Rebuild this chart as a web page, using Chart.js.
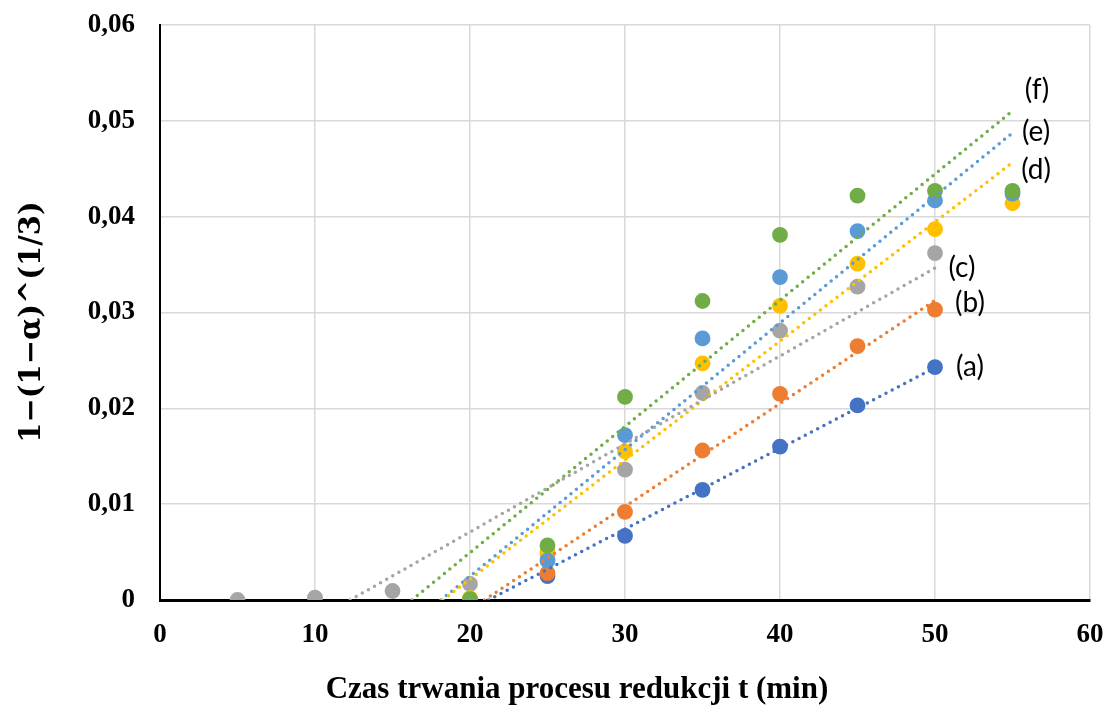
<!DOCTYPE html>
<html lang="pl">
<head>
<meta charset="utf-8">
<title>Kinetyka redukcji</title>
<script src="https://cdn.jsdelivr.net/npm/chart.js@4.4.1/dist/chart.umd.min.js"></script>
<style>
  html, body { margin: 0; padding: 0; background: #ffffff; }
  #wrap { position: relative; width: 1110px; height: 711px; }
</style>
</head>
<body>
<div id="wrap"><canvas id="chart"></canvas></div>
<script>
// Reduction time (min)
const times = [5, 10, 15, 20, 25, 30, 35, 40, 45, 50, 55];

// 1-(1-alpha)^(1/3) for each sample series (null = not measured)
const seriesA = [null, null, null, 0.0000, 0.0025, 0.0067, 0.0115, 0.0160, 0.0203, 0.0243, null];
const seriesB = [null, null, null, 0.0000, 0.0028, 0.0092, 0.0156, 0.0215, 0.0265, 0.0303, null];
const seriesC = [0.0000, 0.00024, 0.00094, 0.00167, 0.0048, 0.0136, 0.0216, 0.0281, 0.0327, 0.0362, null];
const seriesD = [null, null, null, 0.0002, 0.0050, 0.0155, 0.0247, 0.0307, 0.0351, 0.0387, 0.0414];
const seriesE = [null, null, null, 0.0000, 0.0041, 0.0172, 0.0273, 0.0337, 0.0385, 0.0417, 0.0424];
const seriesF = [null, null, null, 0.0001, 0.0057, 0.0212, 0.0312, 0.0381, 0.0422, 0.0427, 0.0427];

const seriesNames = ['(a)', '(b)', '(c)', '(d)', '(e)', '(f)'];
const seriesColors = ['#4472C4', '#ED7D31', '#A5A5A5', '#FFC000', '#5B9BD5', '#70AD47'];
const allSeries = [seriesA, seriesB, seriesC, seriesD, seriesE, seriesF];

// Tick values
const xTicks = [0, 10, 20, 30, 40, 50, 60];
const yTicks = [0, 0.01, 0.02, 0.03, 0.04, 0.05, 0.06];

// Axis titles
const xTitle = 'Czas trwania procesu redukcji t (min)';
const yTitle = '1\u2212(1\u2212\u03B1)^(1/3)';

// Where each series tag is written, in axis units
const tagPlacement = [
  { x: 52.26, y: 0.02431 },
  { x: 52.26, y: 0.03099 },
  { x: 51.74, y: 0.03464 },
  { x: 56.52, y: 0.04487 },
  { x: 56.52, y: 0.04884 },
  { x: 56.58, y: 0.05322 }
];

function toPoints(values) {
  const pts = [];
  values.forEach((v, i) => { if (v !== null) pts.push({ x: times[i], y: v }); });
  return pts;
}

// Least-squares linear trend, projected back to the time axis (y = 0)
// and running up to the last measured time of the series
function linearTrend(points) {
  const n = points.length;
  const mx = points.reduce((s, p) => s + p.x, 0) / n;
  const my = points.reduce((s, p) => s + p.y, 0) / n;
  let sxy = 0, sxx = 0;
  points.forEach(p => { sxy += (p.x - mx) * (p.y - my); sxx += (p.x - mx) * (p.x - mx); });
  const slope = sxy / sxx;
  const icpt = my - slope * mx;
  const root = -icpt / slope;
  const x0 = Math.max(xTicks[0], root);
  const x1 = points[n - 1].x;
  return [{ x: x0, y: icpt + slope * x0 }, { x: x1, y: icpt + slope * x1 }];
}

const datasets = [];
allSeries.forEach((vals, i) => {
  const pts = toPoints(vals);
  datasets.push({
    type: 'scatter',
    label: seriesNames[i],
    data: pts,
    backgroundColor: seriesColors[i],
    borderWidth: 0,
    pointRadius: 7.9,
    pointHoverRadius: 7.9,
    order: 10 - i
  });
  datasets.push({
    type: 'line',
    label: seriesNames[i] + ' trend',
    data: linearTrend(pts),
    borderColor: seriesColors[i],
    borderWidth: 3.5,
    borderDash: [0, 7],
    borderCapStyle: 'round',
    pointRadius: 0,
    fill: false,
    clip: 0,
    order: 1
  });
});

const whiteBackground = {
  id: 'whiteBackground',
  beforeDraw(chart) {
    const { ctx, width, height } = chart;
    ctx.save();
    ctx.fillStyle = '#ffffff';
    ctx.fillRect(0, 0, width, height);
    ctx.restore();
  }
};

// Series tags beside the trend lines
const seriesTags = {
  id: 'seriesTags',
  afterDatasetsDraw(chart) {
    const { ctx, scales } = chart;
    ctx.save();
    ctx.font = '28px Lato, "Open Sans", sans-serif';
    ctx.fillStyle = '#000000';
    ctx.textAlign = 'center';
    ctx.textBaseline = 'middle';
    seriesNames.forEach((name, i) => {
      const p = tagPlacement[i];
      ctx.fillText(name, scales.x.getPixelForValue(p.x), scales.y.getPixelForValue(p.y));
    });
    ctx.restore();
  }
};

// Axis titles
const axisTitles = {
  id: 'axisTitles',
  afterDraw(chart) {
    const { ctx, chartArea } = chart;
    ctx.save();
    ctx.fillStyle = '#000000';
    ctx.textAlign = 'center';
    ctx.textBaseline = 'middle';
    ctx.font = 'bold 31px "Liberation Serif", "Times New Roman", serif';
    ctx.fillText(xTitle, chartArea.left + 417, chart.height - 21);
    ctx.translate(32, chartArea.top + 297);
    ctx.rotate(-Math.PI / 2);
    ctx.font = 'bold 29px "DejaVu Serif", serif';
    ctx.fillText(yTitle, 0, 0);
    ctx.restore();
  }
};

const tickFont = { family: '"Liberation Serif", "Times New Roman", serif', size: 27, weight: 'bold' };

new Chart(document.getElementById('chart'), {
  type: 'scatter',
  data: { datasets },
  options: {
    responsive: true,
    maintainAspectRatio: false,
    animation: false,
    layout: { padding: { top: 25, right: 20, left: 0, bottom: 0 } },
    plugins: {
      legend: { display: false },
      tooltip: { enabled: false }
    },
    scales: {
      x: {
        type: 'linear',
        min: xTicks[0],
        max: xTicks[xTicks.length - 1],
        afterBuildTicks(scale) { scale.ticks = xTicks.map(v => ({ value: v })); },
        afterFit(scale) {
          scale.height = 111;
          scale.paddingLeft = 0;
          scale.paddingRight = 0;
        },
        ticks: {
          font: tickFont,
          color: '#000000',
          padding: 19,
          callback: v => String(v)
        },
        grid: { color: '#d9d9d9', lineWidth: 1.5, drawTicks: false },
        border: { color: '#000000', width: 3 }
      },
      y: {
        type: 'linear',
        min: yTicks[0],
        max: yTicks[yTicks.length - 1],
        afterBuildTicks(scale) { scale.ticks = yTicks.map(v => ({ value: v })); },
        afterFit(scale) {
          scale.width = 160;
          scale.paddingTop = 0;
          scale.paddingBottom = 0;
        },
        ticks: {
          font: tickFont,
          color: '#000000',
          padding: 25,
          callback: v => (v === 0 ? '0' : v.toFixed(2).replace('.', ','))
        },
        grid: { color: '#d9d9d9', lineWidth: 1.5, drawTicks: false },
        border: { color: '#000000', width: 2 }
      }
    }
  },
  plugins: [whiteBackground, seriesTags, axisTitles]
});
</script>
</body>
</html>
